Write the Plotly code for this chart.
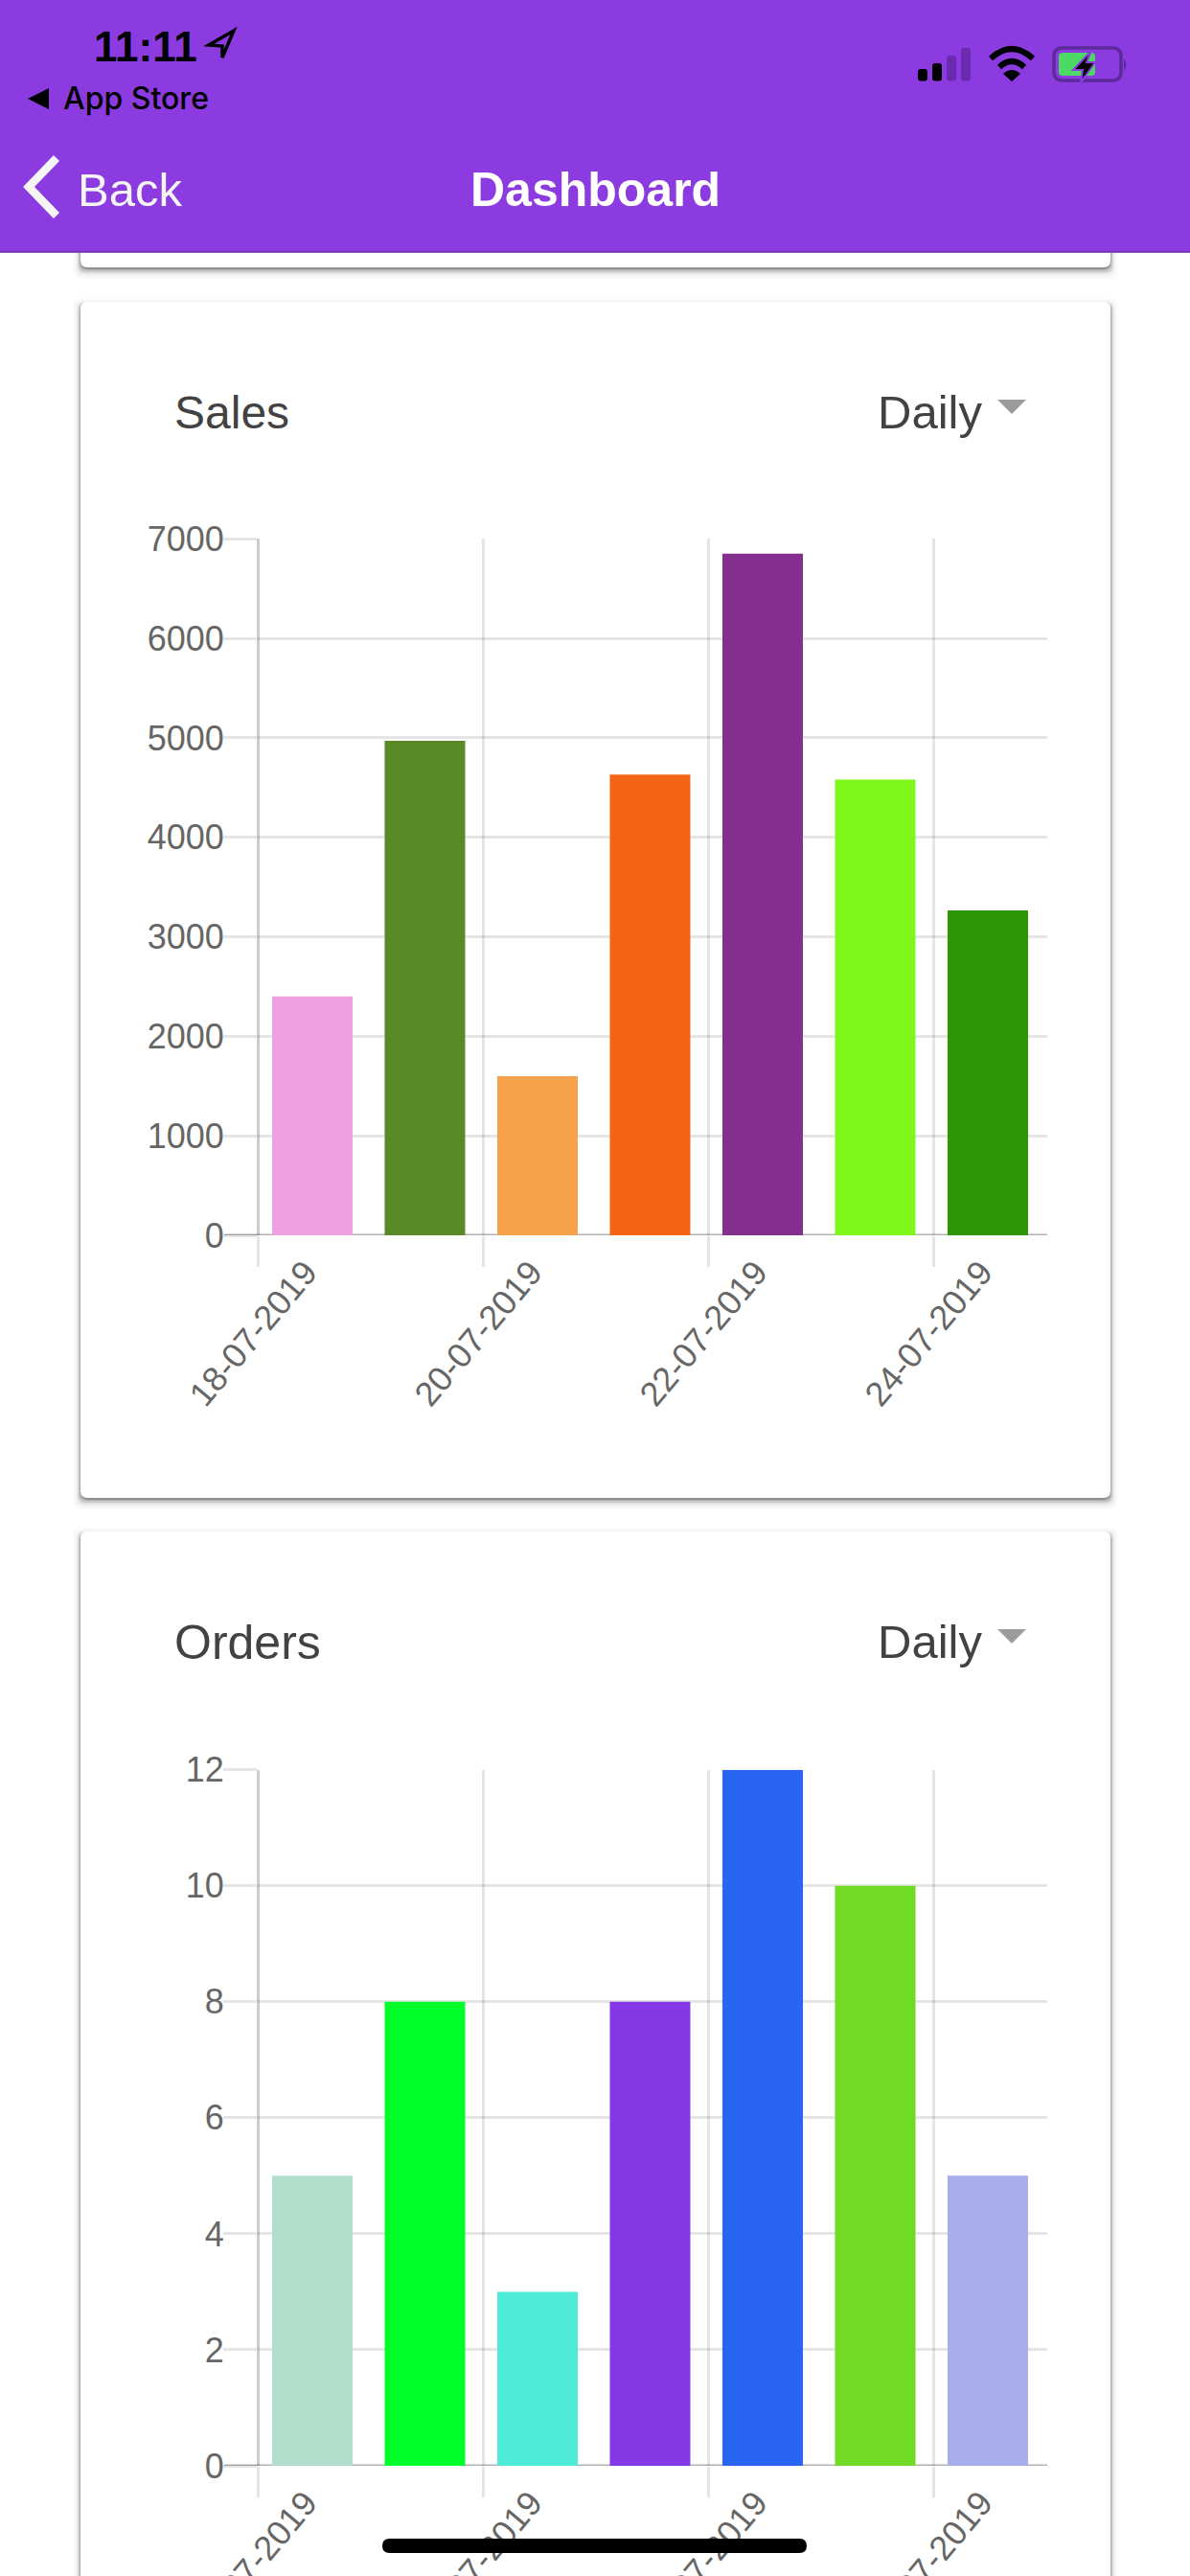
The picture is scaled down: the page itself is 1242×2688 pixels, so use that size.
import plotly.graph_objects as go

W, H = 1242, 2688

# Chart data
dates = ["18-07-2019", "19-07-2019", "20-07-2019", "21-07-2019",
         "22-07-2019", "23-07-2019", "24-07-2019"]
sales = [2400, 4970, 1600, 4630, 6850, 4580, 3265]
orders = [5, 8, 3, 8, 12, 10, 5]
sales_colors = ["#EDA1E1", "#5A8A26", "#F5A24B", "#F36414",
                "#842E8E", "#7EF81A", "#2C9704"]
orders_colors = ["#B2DCCC", "#00FF2A", "#4DEBD8", "#8438E6",
                 "#2865F0", "#70DA25", "#A8AEEC"]
sales_ticks = [0, 1000, 2000, 3000, 4000, 5000, 6000, 7000]
orders_ticks = [0, 2, 4, 6, 8, 10, 12]

TEXT = "#424242"
TICK = "#666666"
GRID = "rgba(0,0,0,0.10)"
HEADER = "#8B3BDF"
DIM = "#6A2BB0"

PLOT_L, PLOT_R = 269, 1093
DAY_PX = 117.5


def px(x):
    return x / W


def py(y):
    return 1 - y / H


def path(cmds):
    """Build an SVG path in paper space from (command, (x, y), ...) tuples."""
    out = []
    for c in cmds:
        out.append(c[0] + " ".join(f"{px(p[0]):.5f},{py(p[1]):.5f}" for p in c[1:]))
    return " ".join(out)


def rrect(x0, y0, x1, y1, r):
    return path([
        ("M", (x0 + r, y0)), ("L", (x1 - r, y0)), ("Q", (x1, y0), (x1, y0 + r)),
        ("L", (x1, y1 - r)), ("Q", (x1, y1), (x1 - r, y1)), ("L", (x0 + r, y1)),
        ("Q", (x0, y1), (x0, y1 - r)), ("L", (x0, y0 + r)), ("Q", (x0, y0), (x0 + r, y0)),
    ]) + " Z"


shapes = []


def add_path(d, fill=None, line=None, width=0, layer="below"):
    shapes.append(dict(type="path", xref="paper", yref="paper", path=d, layer=layer,
                       fillcolor=fill or "rgba(0,0,0,0)",
                       line=dict(color=line or "rgba(0,0,0,0)", width=width)))


def add_card(x0, y0, x1, y1):
    for spread, dy, alpha in [(8, 4, .015), (6, 4, .025), (4, 4, .04), (3, 3, .06),
                              (2, 3, .09), (1, 2, .12), (0, 2, .18)]:
        add_path(rrect(x0 - spread, y0 - spread + dy, x1 + spread, y1 + spread + dy, 8),
                 fill=f"rgba(0,0,0,{alpha})")
    add_path(rrect(x0, y0, x1, y1, 7), fill="#FFFFFF")


# Dashboard cards
add_card(84, 100, 1159, 279)
add_card(84, 315, 1159, 1563)
add_card(84, 1598, 1159, 2800)

# Axis stubs that carry the darker baseline into the tick gutter
for yref in ("y", "y2"):
    shapes.append(dict(type="line", xref="x domain" if yref == "y" else "x2 domain", yref=yref,
                       x0=-35 / (PLOT_R - PLOT_L), x1=1, y0=0, y1=0, layer="below",
                       line=dict(color="rgba(0,0,0,0.30)", width=3)))

# Dropdown carets
add_path(path([("M", (1041, 417)), ("L", (1071, 417)), ("L", (1056, 432))]) + " Z", fill="#9B9B9B")
add_path(path([("M", (1041, 1700)), ("L", (1071, 1700)), ("L", (1056, 1715))]) + " Z", fill="#9B9B9B")

# Header bar and status icons sit above the scrolling content
add_path(path([("M", (0, 0)), ("L", (W, 0)), ("L", (W, 263)), ("L", (0, 263))]) + " Z",
         fill=HEADER, layer="above")
add_path(path([("M", (0, 263)), ("L", (W, 263))]), line="#6A2EA8", width=1.5, layer="above")

add_path(path([("M", (59, 165)), ("L", (30, 195)), ("L", (59, 225))]),
         line="#F5F5F5", width=8.5, layer="above")
add_path(path([("M", (51, 92)), ("L", (29, 103)), ("L", (51, 114))]) + " Z",
         fill="#000000", layer="above")
add_path(path([("M", (244, 32)), ("L", (218, 47)), ("L", (232, 48)), ("L", (232, 60))]) + " Z",
         line="#000000", width=3.5, layer="above")

for (x0, y0, x1), color in zip([(958, 72, 968), (973, 66, 983), (988, 58, 998), (1003, 50, 1013)],
                               ["#000000", "#000000", DIM, DIM]):
    add_path(rrect(x0, y0, x1, 84.5, 3), fill=color, layer="above")

add_path(path([("M", (1034, 61)), ("Q", (1056, 41), (1078, 61))]), line="#000000", width=6, layer="above")
add_path(path([("M", (1043, 70)), ("Q", (1056, 58), (1069, 70))]), line="#000000", width=6, layer="above")
add_path(path([("M", (1056, 85)), ("L", (1047, 77)), ("Q", (1056, 69), (1065, 77))]) + " Z",
         fill="#000000", layer="above")

add_path(rrect(1100, 50, 1170, 84, 9), line="#5D2A9C", width=3.5, layer="above")
add_path(path([("M", (1173, 61)), ("Q", (1178, 67), (1173, 74))]) + " Z", fill="#5D2A9C", layer="above")
add_path(rrect(1105, 55, 1143, 79, 4), fill="#4CD964", layer="above")
add_path(path([("M", (1139, 53)), ("L", (1120, 73)), ("L", (1130, 73)), ("L", (1128, 86)),
               ("L", (1143, 65)), ("L", (1134, 65))]) + " Z",
         fill="#000000", line=HEADER, width=2, layer="above")

# Home indicator
add_path(rrect(399, 2649, 842, 2664, 7.5), fill="#000000", layer="above")

annotations = []


def add_text(x, base, text, size, color, family="Liberation Sans", anchor="left", weight=400):
    annotations.append(dict(xref="paper", yref="paper", x=px(x), y=py(base - 0.34 * size),
                            text=text, showarrow=False, xanchor=anchor, yanchor="middle",
                            borderpad=0, font=dict(size=size, color=color, family=family, weight=weight)))


add_text(97, 63, "11:11", 44, "#000000", weight=700)
add_text(65, 113, "App Store", 32, "#000000", family="Inter", weight=500)
add_text(80, 215, "Back", 49, "#F5F5F5")
add_text(621, 215, "Dashboard", 50, "#FFFFFF", anchor="center", weight=700)

add_text(181, 447, "Sales", 48, TEXT)
add_text(915, 447, "Daily", 49, TEXT)
add_text(181, 1731, "Orders", 50, TEXT)
add_text(915, 1730, "Daily", 49, TEXT)

bar_x = [i + 0.485 for i in range(len(dates))]
x_range = [0, (PLOT_R - PLOT_L) / DAY_PX]
tick_days = list(range(0, len(dates), 2))


def x_axis(anchor):
    return dict(
        anchor=anchor, domain=[px(PLOT_L), px(PLOT_R)], range=x_range, automargin=False,
        tickmode="array", tickvals=tick_days, ticktext=[dates[i] for i in tick_days],
        tickangle=-50, ticks="outside", ticklen=32, tickwidth=3, tickcolor=GRID,
        showgrid=True, gridcolor=GRID, gridwidth=3,
        zeroline=True, zerolinecolor="rgba(0,0,0,0.2)", zerolinewidth=3,
        showline=False, ticklabelshift=50, ticklabelstandoff=-30,
        tickfont=dict(size=36, color=TICK, family="Liberation Sans"),
    )


def y_axis(anchor, domain, top, ticks):
    return dict(
        anchor=anchor, domain=domain, range=[0, top], automargin=False,
        tickmode="array", tickvals=ticks, ticks="outside", ticklen=35, tickwidth=3,
        tickcolor=GRID, showgrid=True, gridcolor=GRID, gridwidth=3,
        zeroline=False, showline=False, ticklabelstandoff=-8,
        tickfont=dict(size=36, color=TICK, family="Liberation Sans"),
    )


fig = go.Figure()
fig.add_trace(go.Bar(x=bar_x, y=sales, marker=dict(color=sales_colors, line=dict(width=0)),
                     width=0.715, customdata=dates, xaxis="x", yaxis="y"))
fig.add_trace(go.Bar(x=bar_x, y=orders, marker=dict(color=orders_colors, line=dict(width=0)),
                     width=0.715, customdata=dates, xaxis="x2", yaxis="y2"))

fig.update_layout(
    width=W, height=H, margin=dict(l=0, r=0, t=0, b=0), autosize=False,
    paper_bgcolor="#FFFFFF", plot_bgcolor="rgba(0,0,0,0)", showlegend=False,
    xaxis=x_axis("y"), xaxis2=x_axis("y2"),
    yaxis=y_axis("x", [py(1289), py(562.3)], 7000, sales_ticks),
    yaxis2=y_axis("x2", [py(2573), py(1846.7)], 12, orders_ticks),
    shapes=shapes, annotations=annotations,
)

fig.write_html("out.html", config=dict(displayModeBar=False))
